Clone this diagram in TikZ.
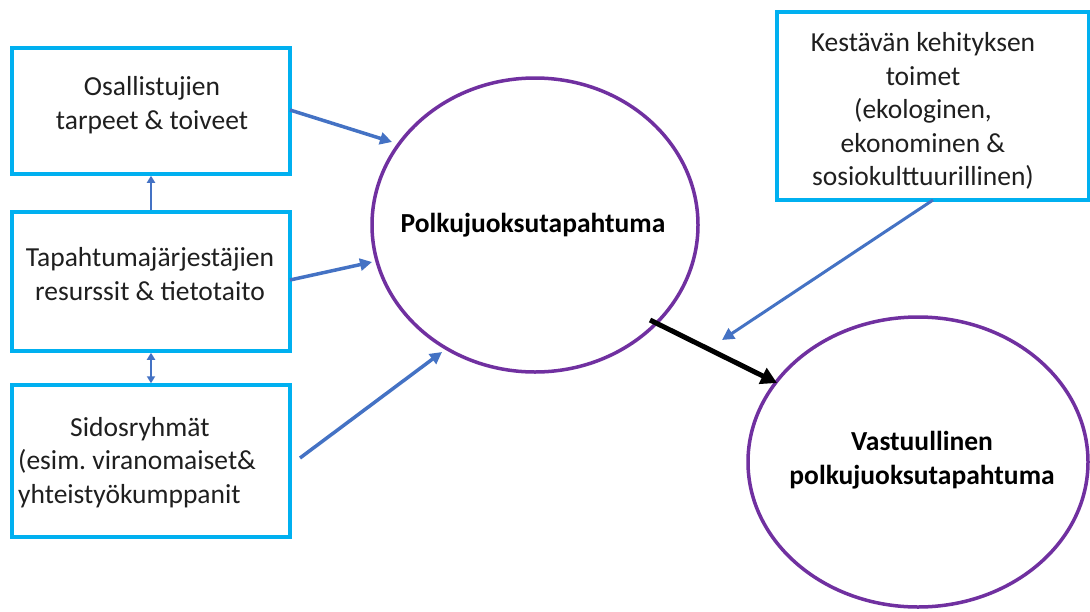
\documentclass[tikz,border=0pt]{standalone}
\usepackage{fontspec}
\setmainfont{Carlito}
\usetikzlibrary{arrows.meta,shapes.geometric}
\definecolor{boxc}{HTML}{00B0F0}
\definecolor{purp}{HTML}{7030A0}
\definecolor{arrc}{HTML}{4472C4}
\tikzset{
  box/.style={draw=boxc, line width=3.5pt, rectangle, inner sep=0pt},
  oval/.style={draw=purp, line width=3.5pt, ellipse, inner sep=0pt},
  txt/.style={inner sep=0pt, align=center, font=\fontsize{27.5}{33.5}\selectfont, text=black!88},
  btxt/.style={inner sep=0pt, align=center, font=\fontsize{27.5}{33.5}\selectfont\bfseries},
  bluearrow/.style={draw=arrc, line width=3.5pt, -{Triangle[length=12pt,width=12pt]}},
  thinarrow/.style={draw=arrc, line width=2.2pt},
  blackarrow/.style={draw=black, line width=5pt, -{Triangle[length=16pt,width=17pt]}}
}
\begin{document}
\frenchspacing
\begin{tikzpicture}[x=1pt,y=-1pt]
\useasboundingbox[fill=white] (0,0) rectangle (1090,611);
% boxes
\node[box, minimum width=278pt, minimum height=126pt] (b1) at (151,111) {};
\node[box, minimum width=278pt, minimum height=139pt] (b2) at (151,281.5) {};
\node[box, minimum width=278pt, minimum height=152pt] (b3) at (151,461) {};
\node[box, minimum width=312pt, minimum height=188pt] (b4) at (933,106) {};
% ellipses
\node[oval, minimum width=326pt, minimum height=294pt] (e1) at (535,225) {};
\node[oval, minimum width=340pt, minimum height=290pt] (e2) at (918,462) {};
% texts
\node[txt] (t1) at (152,105) {Osallistujien\\tarpeet \& toiveet};
\node[txt] (t2) at (150,274) {Tapahtumajärjestäjien\\resurssit \& tietotaito};
\node[txt, align=left, anchor=north west] (t3) at (18,417) {\hspace*{52pt}Sidosryhmät\\(esim. viranomaiset\&\\yhteistyökumppanit};
\node[txt] (t4) at (923,111) {Kestävän kehityksen\\toimet\\(ekologinen,\\ekonominen \&\\sosiokulttuurillinen)};
\node[btxt] (t5) at (533,225) {Polkujuoksutapahtuma};
\node[btxt] (t6) at (922,460) {Vastuullinen\\polkujuoksutapahtuma};
% free ends
\coordinate (a1s) at (290,110);
\coordinate (a1e) at (392,142);
\coordinate (a2s) at (290,280);
\coordinate (a2e) at (372,262);
\coordinate (a3s) at (300,458);
\coordinate (a3e) at (442,352);
\coordinate (a4s) at (933,200);
\coordinate (a4e) at (722,340);
\coordinate (bks) at (650,320);
\coordinate (bke) at (777,383);
% connectors
\draw[bluearrow] (a1s) -- (a1e);
\draw[bluearrow] (a2s) -- (a2e);
\draw[bluearrow] (a3s) -- (a3e);
\draw[bluearrow, line width=3pt] (a4s) -- (a4e);
\draw[blackarrow] (bks) -- (bke);
\draw[thinarrow, -{Triangle[length=7pt,width=8pt]}] (b2.north) -- (b1.south);
\draw[thinarrow, {Triangle[length=7pt,width=8pt]}-{Triangle[length=7pt,width=8pt]}] (b2.south) -- (b3.north);
\end{tikzpicture}
\end{document}
